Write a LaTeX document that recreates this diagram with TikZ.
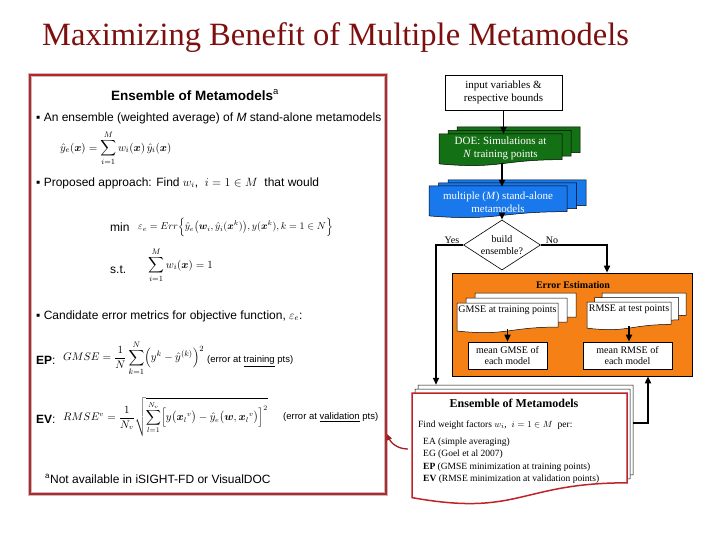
\documentclass[tikz,border=0pt]{standalone}
\usepackage{amsmath,amssymb}
\usepackage{fontspec}
\setmainfont{Liberation Serif}
\setsansfont{Liberation Sans}
\usepackage{tikz}
\usetikzlibrary{arrows.meta,shapes.geometric}
\usepackage{xcolor}
\definecolor{titlecol}{RGB}{125,15,15}
\definecolor{framecol}{RGB}{190,35,40}
\definecolor{doecol}{RGB}{20,112,20}
\definecolor{metacol}{RGB}{25,120,235}
\definecolor{errcol}{RGB}{245,128,22}
% document shape: x1, y1, x2, height
\newcommand\docshape[4]{(#1,#2) -- (#3,#2) -- (#3,{#2+0.802*#4})
  .. controls ({(#1+#3)/2},{#2+0.802*#4}) and ({(#1+#3)/2},{#2+1.107*#4}) .. (#1,{#2+0.934*#4}) -- cycle}
% stack of three document shapes: x1, y1, x2, height, dx, dy, back style, front style
\newcommand\docstack[8]{%
  \foreach \k in {2,1}{\path[#7,shift={(\k*#5,-\k*#6)}] \docshape{#1}{#2}{#3}{#4};}
  \path[#8] \docshape{#1}{#2}{#3}{#4};}
\tikzset{
  % flow arrow
  flowarrow/.style={-{Triangle[length=7pt,width=6pt]}, line width=1.6pt},
  % red pointer arrow
  redarrow/.style={-{Triangle[length=6pt,width=5pt]}, line width=1.3pt, draw=framecol!85!black},
  % plain flow box
  fbox/.style={rectangle, draw=black, fill=white, line width=0.6pt, align=center, inner sep=0pt,
               font=\fontsize{11}{12.5}\selectfont},
  % decision
  dnode/.style={diamond, draw=black, fill=white, line width=0.6pt, aspect=1.55, inner sep=0pt, align=center,
                minimum width=77pt, minimum height=50pt, font=\fontsize{10}{11.5}\selectfont},
  % text on a document stack
  stext/.style={rectangle, align=center, inner sep=0pt, text=#1, font=\fontsize{11}{12.5}\selectfont},
  stext/.default={black},
  % layer of a document stack
  dback/.style={draw=black, line width=0.5pt, fill=#1},
  dback/.default={white},
  % sans text in the left frame
  ltext/.style={anchor=west, inner sep=0pt, font=\sffamily\fontsize{12}{14}\selectfont},
  % small note
  note/.style={anchor=west, inner sep=0pt, font=\sffamily\fontsize{9.5}{11}\selectfont},
  % formula
  formula/.style={anchor=west, inner sep=0pt, font=\fontsize{11}{13}\selectfont},
  % serif text in the ensemble box
  etext/.style={anchor=west, inner sep=0pt, font=\fontsize{9.5}{11}\selectfont},
}

\begin{document}
\begin{tikzpicture}[x=1pt,y=-1pt]
  \useasboundingbox[fill=white] (0,0) rectangle (720,540);
  \node[anchor=west, inner sep=0pt, text=titlecol, font=\fontsize{32.5}{38}\selectfont] (title) at (42,38)
    {Maximizing Benefit of Multiple Metamodels};

  % left frame
  \node[draw=framecol, line width=2pt, preaction={draw=black!25, line width=3.5pt},
        minimum width=356pt, minimum height=419pt] (lbox) at (208,284.5) {};
  \node[ltext, font=\sffamily\bfseries\fontsize{13.5}{15}\selectfont] (ltitle) at (111,95)
    {Ensemble of Metamodels\textsuperscript{\mdseries a}};
  \node[ltext] (b1) at (36,118) {▪ An ensemble (weighted average) of \textit{M} stand-alone metamodels};
  \node[formula] (f1) at (60,148)
    {$\displaystyle\hat{y}_e(\boldsymbol{x}) = \sum_{i=1}^{M} w_i(\boldsymbol{x})\,\hat{y}_i(\boldsymbol{x})$};
  \node[ltext] (b2) at (36,183) {▪ Proposed approach: Find $w_i$, \ $i = 1 \in M$ \ that would};
  \node[ltext] (min) at (110,227) {min};
  \node[formula, font=\fontsize{10.3}{12}\selectfont] (f2) at (138,227)
    {$\varepsilon_e = Err\Bigl\{\hat{y}_e\bigl(\boldsymbol{w}_i, \hat{y}_i(\boldsymbol{x}^k)\bigr), y(\boldsymbol{x}^k), k = 1 \in N\Bigr\}$};
  \node[ltext] (st) at (110,270) {s.t.};
  \node[formula] (f3) at (148,265) {$\displaystyle\sum_{i=1}^{M} w_i(\boldsymbol{x}) = 1$};
  \node[ltext] (b3) at (36,316) {▪ Candidate error metrics for objective function, $\varepsilon_e$:};
  \node[ltext, font=\sffamily\bfseries\fontsize{12}{14}\selectfont] (ep) at (36,360) {EP\textmd{:}};
  \node[formula] (f4) at (63,358)
    {$GMSE = \dfrac{1}{N}\displaystyle\sum_{k=1}^{N}\Bigl(y^k - \hat{y}^{(k)}\Bigr)^2$};
  \node[note] (n1) at (207,361) {(error at \underline{training} pts)};
  \node[ltext, font=\sffamily\bfseries\fontsize{12}{14}\selectfont] (ev) at (36,419) {EV\textmd{:}};
  \node[formula, font=\fontsize{10.5}{12.5}\selectfont] (f5) at (63,417)
    {$RMSE^v = \dfrac{1}{N_v}\sqrt{\displaystyle\sum_{l=1}^{N_v}\Bigl[y\bigl(\boldsymbol{x}_l{}^v\bigr) - \hat{y}_e\bigl(\boldsymbol{w}, \boldsymbol{x}_l{}^v\bigr)\Bigr]^2}$};
  \node[note] (n2) at (283,417) {(error at \underline{validation} pts)};
  \node[ltext] (foot) at (45,479) {\textsuperscript{a}Not available in iSIGHT-FD or VisualDOC};

  % flow chart
  \node[fbox, minimum width=117pt, minimum height=35pt] (input) at (503.5,92.5) {input variables \&\\respective bounds};
  \docstack{439}{134}{562}{32}{9}{3.5}{dback=doecol}{dback=doecol}
  \node[stext=white, minimum width=123pt, minimum height=28.8pt] (doe) at (500.5,148.4)
    {DOE: Simulations at\\\textit{N} training points};
  \docstack{429}{186}{567}{32}{9.5}{3}{dback=metacol}{dback=metacol}
  \node[stext=white, minimum width=138pt, minimum height=30pt] (meta) at (498,202)
    {multiple (\textit{M}) stand-alone\\metamodels};
  \node[dnode] (build) at (502,245) {build\\ensemble?};
  \node[inner sep=0pt, font=\fontsize{10}{12}\selectfont] (yes) at (452,240) {Yes};
  \node[inner sep=0pt, font=\fontsize{10}{12}\selectfont] (no) at (552,240) {No};

  % error estimation
  \node[draw=black, line width=0.6pt, fill=errcol, minimum width=240pt, minimum height=103pt] (err) at (572,324.5) {};
  \node[stext, font=\bfseries\fontsize{10}{12}\selectfont] (errtitle) at (573,285) {Error Estimation};
  \docstack{457}{303}{558}{30}{9}{5}{dback}{dback}
  \node[stext, minimum width=101pt, minimum height=38pt, font=\fontsize{10}{12}\selectfont] (gmse) at (507.5,310)
    {GMSE at training points};
  \docstack{587}{302}{671}{28}{7.5}{4.5}{dback}{dback}
  \node[stext, minimum width=84pt, minimum height=34pt, font=\fontsize{10}{12}\selectfont] (rmse) at (629,309)
    {RMSE at test points};
  \node[fbox, minimum width=79pt, minimum height=27pt, font=\fontsize{10}{11.5}\selectfont] (mgmse) at (507.5,355.5)
    {mean GMSE of\\each model};
  \node[fbox, minimum width=89pt, minimum height=27pt, font=\fontsize{10}{11.5}\selectfont] (mrmse) at (627.5,355.5)
    {mean RMSE of\\each model};

  % ensemble box
  \docstack{412}{393}{627}{112}{3}{4}{dback}{dback, draw=framecol, line width=1.5pt}
  \node[minimum width=215pt, minimum height=100pt] (ens) at (519.5,443) {};
  \node[stext, font=\bfseries\fontsize{12}{14}\selectfont] (enstitle) at (514,403) {Ensemble of Metamodels};
  \node[etext] (find) at (418,425) {Find weight factors $w_i$, \ $i = 1 \in M$ \ per:};
  \node[etext] (ea) at (423,442) {EA (simple averaging)};
  \node[etext] (eg) at (423,454) {EG (Goel et al 2007)};
  \node[etext] (eep) at (423,467) {\textbf{EP} (GMSE minimization at training points)};
  \node[etext] (eev) at (423,479) {\textbf{EV} (RMSE minimization at validation points)};

  % connectors
  \draw[flowarrow] (input.south) -- (input.south |- doe.north);
  \draw[flowarrow] (build.north |- doe.south) -- (build.north |- meta.north);
  \draw[flowarrow] (build.north |- meta.south) -- (build.north);
  \draw[flowarrow] (build.west) -| ([xshift=-83.5pt,yshift=8pt]ens.north);
  \draw[flowarrow] (build.east) -| ([xshift=35pt]err.north);
  \draw[flowarrow] (gmse.south) -- (mgmse.north);
  \draw[flowarrow] (rmse.south) -- (rmse.south |- mrmse.north);
  \draw[flowarrow] ([xshift=6pt,yshift=20pt]ens.east) -| ([xshift=76pt]err.south);
  \draw[redarrow] ([xshift=-4pt,yshift=-6pt]ens.west) .. controls +(-10,0) and +(4,9) .. (lbox.east |- 0,434);
\end{tikzpicture}
\end{document}
